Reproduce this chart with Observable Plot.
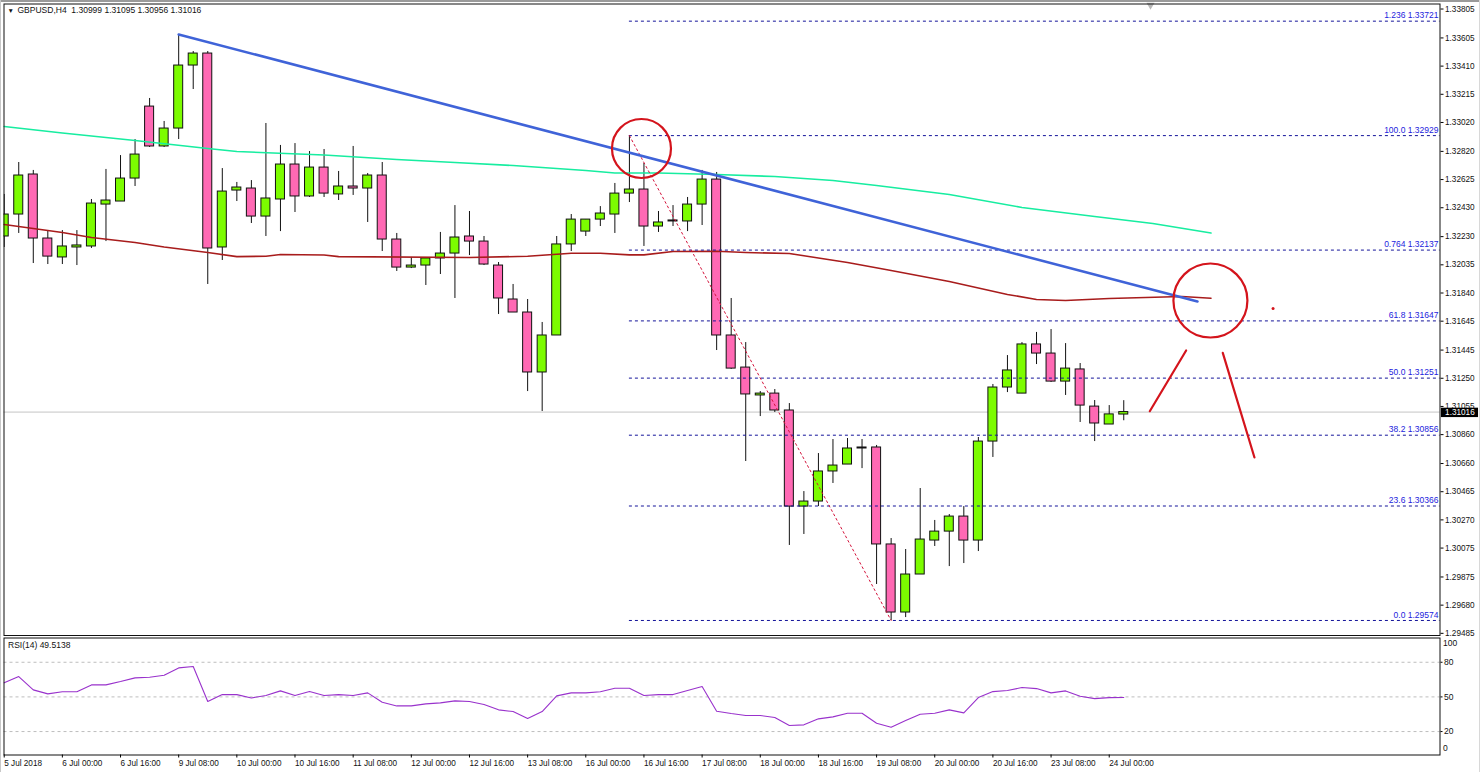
<!DOCTYPE html>
<html>
<head>
<meta charset="utf-8">
<script src="https://cdn.jsdelivr.net/npm/d3@7"></script>
<script src="https://cdn.jsdelivr.net/npm/@observablehq/plot@0.6"></script>
<style>
  html, body { margin: 0; padding: 0; background: #fff; overflow: hidden; }
  #wrap { position: relative; width: 1480px; height: 772px; }
  #wrap svg { display: block; background: transparent; }
  .chrome { position: absolute; background: #9a9a9a; }
</style>
</head>
<body>
<div id="wrap">
  <div class="chrome" style="left:0;top:0;width:1480px;height:2px"></div>
  <div class="chrome" style="left:0;top:0;width:1px;height:772px;background:#c8c8c8"></div>
  <div class="chrome" style="right:0;top:0;width:1px;height:772px;background:#d8d8d8"></div>
</div>
<script>
const opens = [1.32231,1.32383,1.32660,1.32217,1.32086,1.32155,1.32162,1.32452,1.32473,1.32632,1.33130,1.32854,1.32978,1.33414,1.33497,1.32155,1.32549,1.32563,1.32369,1.32487,1.32729,1.32508,1.32708,1.32522,1.32577,1.32563,1.32653,1.32210,1.32016,1.32030,1.32079,1.32113,1.32231,1.32196,1.32030,1.31795,1.31705,1.31290,1.31546,1.32176,1.32265,1.32348,1.32383,1.32528,1.32556,1.32300,1.32342,1.32335,1.32452,1.32625,1.31546,1.31324,1.31131,1.31144,1.31027,1.30362,1.30397,1.30605,1.30653,1.30771,1.30771,1.30100,1.29629,1.29892,1.30127,1.30189,1.30293,1.30127,1.30812,1.31186,1.31144,1.31484,1.31421,1.31227,1.31311,1.31054,1.30930,1.30999];
const highs = [1.32522,1.32743,1.32688,1.32272,1.32272,1.32272,1.32487,1.32695,1.32791,1.32902,1.33186,1.33027,1.33629,1.33511,1.33511,1.32701,1.32605,1.32618,1.33013,1.32861,1.32874,1.32819,1.32833,1.32681,1.32854,1.32667,1.32743,1.32252,1.32086,1.32079,1.32259,1.32445,1.32404,1.32231,1.32051,1.31899,1.31795,1.31636,1.32231,1.32383,1.32348,1.32438,1.32598,1.32930,1.32736,1.32404,1.32445,1.32501,1.32688,1.32674,1.31802,1.31497,1.31158,1.31172,1.31075,1.30466,1.30729,1.30826,1.30833,1.30826,1.30785,1.30141,1.30065,1.30487,1.30266,1.30307,1.30362,1.30840,1.31207,1.31407,1.31497,1.31567,1.31587,1.31490,1.31352,1.31096,1.31061,1.31095];
const lows = [1.32155,1.32252,1.32044,1.32037,1.32037,1.32030,1.32148,1.32196,1.32473,1.32577,1.32847,1.32847,1.32902,1.33248,1.31899,1.32065,1.32473,1.32321,1.32231,1.32265,1.32397,1.32501,1.32501,1.32480,1.32515,1.32328,1.32127,1.31989,1.32009,1.31892,1.31968,1.31802,1.32099,1.32030,1.31691,1.31705,1.31158,1.31020,1.31546,1.32127,1.32231,1.32300,1.32252,1.32466,1.32162,1.32259,1.32300,1.32265,1.32307,1.31442,1.31311,1.30674,1.30985,1.31013,1.30093,1.30169,1.30362,1.30522,1.30653,1.30625,1.29823,1.29574,1.29594,1.29892,1.30086,1.29947,1.29968,1.30051,1.30702,1.31151,1.31144,1.31345,1.31221,1.31131,1.30944,1.30812,1.30930,1.30956];
const closes = [1.32383,1.32653,1.32217,1.32092,1.32162,1.32169,1.32459,1.32480,1.32632,1.32798,1.32854,1.32978,1.33414,1.33497,1.32148,1.32542,1.32570,1.32369,1.32494,1.32729,1.32508,1.32708,1.32528,1.32577,1.32563,1.32653,1.32210,1.32016,1.32030,1.32079,1.32113,1.32224,1.32196,1.32037,1.31802,1.31705,1.31290,1.31546,1.32176,1.32348,1.32348,1.32390,1.32528,1.32556,1.32300,1.32328,1.32335,1.32452,1.32625,1.31546,1.31317,1.31138,1.31144,1.31027,1.30362,1.30397,1.30605,1.30646,1.30764,1.30764,1.30100,1.29629,1.29892,1.30134,1.30189,1.30293,1.30127,1.30812,1.31186,1.31304,1.31484,1.31421,1.31227,1.31317,1.31061,1.30937,1.31000,1.31016];

const greenMaBars = [0,4,9,14,16,22,27,31,35,40,42,45,49,53,57,60,65,70,75,79,83];
const greenMaValues = [1.32992,1.32947,1.32895,1.32840,1.32819,1.32795,1.32764,1.32743,1.32722,1.32688,1.32670,1.32670,1.32660,1.32646,1.32618,1.32584,1.32522,1.32432,1.32369,1.32321,1.32255];
const redMaBars = [0,2,4,6,9,11,14,16,18,19,22,23,32,36,39,41,43,44,46,49,51,54,58,61,65,69,71,73,76,81,83];
const redMaValues = [1.32314,1.32286,1.32259,1.32224,1.32189,1.32158,1.32120,1.32092,1.32094,1.32106,1.32103,1.32092,1.32086,1.32094,1.32115,1.32115,1.32104,1.32104,1.32127,1.32129,1.32120,1.32113,1.32051,1.31996,1.31920,1.31830,1.31795,1.31788,1.31802,1.31816,1.31804];

const fibNames = ["1.236","100.0","0.764","61.8","50.0","38.2","23.6","0.0"];
const fibPrices = [1.33721,1.32929,1.32137,1.31647,1.31251,1.30856,1.30366,1.29574];

const priceTicks = [1.33805,1.33605,1.33410,1.33215,1.33020,1.32820,1.32625,1.32430,1.32230,1.32035,1.31840,1.31645,1.31445,1.31250,1.31055,1.30860,1.30660,1.30465,1.30270,1.30075,1.29875,1.29680,1.29485];

const rsiValues = [62.2,67.6,56.1,52.6,54.4,54.4,60.4,60.4,63.3,66.5,67,68.8,75.1,76.3,46,52,52,49.1,51.2,55.2,51.2,54.6,51.2,52,51.2,53.5,45.4,42.2,42.2,44,44.8,46.6,46,43.4,38.8,37.3,31.3,37.3,50.9,53.5,53.5,54.4,57.5,57.5,51.2,52,52,55.5,59,37.6,35.6,33.9,33.9,32.1,25.2,25.8,31,32.7,35.8,35.8,27.2,23.7,29.5,35,35.8,38.8,36.2,49.4,54.6,55.5,58.1,57.2,53.5,55.2,50.6,48.5,49.4,49.51];
const rsiLevels = [80,50,20];

const timeTickBars = [0,4,8,12,16,20,24,28,32,36,40,44,48,52,56,60,64,68,72,76];
const timeTickLabels = ["5 Jul 2018","6 Jul 00:00","6 Jul 16:00","9 Jul 08:00","10 Jul 00:00","10 Jul 16:00","11 Jul 08:00","12 Jul 00:00","12 Jul 16:00","13 Jul 08:00","16 Jul 00:00","16 Jul 16:00","17 Jul 08:00","18 Jul 00:00","18 Jul 16:00","19 Jul 08:00","20 Jul 00:00","20 Jul 16:00","23 Jul 08:00","24 Jul 00:00"];

const lastPrice = 1.31016;
const titleText = "GBPUSD,H4\u00a0\u00a01.30999 1.31095 1.30956 1.31016";
const rsiText = "RSI(14) 49.5138";

const bars = opens.map((o, i) => ({i, o, h: highs[i], l: lows[i], c: closes[i]}));
const greenMa = greenMaBars.map((i, k) => ({i, v: greenMaValues[k]}));
const redMa = redMaBars.map((i, k) => ({i, v: redMaValues[k]}));
const fibs = fibNames.map((n, k) => ({n, p: fibPrices[k], label: n + " " + fibPrices[k].toFixed(5)}));
const rsi = rsiValues.map((v, i) => ({i, v}));

const trendLine = [{i: 12, p: 1.33629}, {i: 82.07, p: 1.31781}];
const fibDiagonal = [{i: 43, p: 1.32929}, {i: 61, p: 1.29574}];
const arrowUp = [{i: 78.79, p: 1.31022}, {i: 81.29, p: 1.31442}];
const arrowDown = [{i: 83.81, p: 1.31426}, {i: 85.99, p: 1.30702}];
const circleA = [{i: 43.83, p: 1.32840}];
const circleB = [{i: 82.96, p: 1.31788}];
const strayDot = [{i: 87.27, p: 1.31733}];

const xDomain = [-0.014, 98.75];
const font = "'Liberation Sans', sans-serif";
const bull = "#7cfc00", bear = "#ff69b4", annot = "#d4141c";
const bodyHalf = 0.31;

const main = Plot.plot({
  width: 1480, height: 637,
  marginTop: 3.5, marginBottom: 2, marginLeft: 3.5, marginRight: 40.5,
  x: {domain: xDomain, axis: null},
  y: {domain: [1.29470, 1.338398], axis: null},
  color: {type: "identity"},
  style: {fontFamily: font, fontSize: "8.5px", background: "transparent", overflow: "visible"},
  marks: [
    Plot.ruleY([lastPrice], {stroke: "#c4c4c4", strokeWidth: 1}),
    Plot.ruleX(bars, {x: "i", y1: "l", y2: "h", stroke: "#111", strokeWidth: 1, clip: true}),
    Plot.rect(bars, {
      x1: d => d.i - bodyHalf, x2: d => d.i + bodyHalf,
      y1: d => Math.min(d.o, d.c), y2: d => Math.max(d.o, d.c),
      fill: d => d.c >= d.o ? bull : bear, stroke: "#111", strokeWidth: 1, clip: true
    }),
    Plot.lineY(greenMa, {x: "i", y: "v", stroke: "#17eda0", strokeWidth: 1.6}),
    Plot.lineY(redMa, {x: "i", y: "v", stroke: "#a81c1c", strokeWidth: 1.6}),
    Plot.ruleY(fibs, {y: "p", x1: 43, x2: xDomain[1], stroke: "#14149a", strokeWidth: 1, strokeDasharray: "3,3"}),
    Plot.text(fibs, {y: "p", text: "label", frameAnchor: "right", textAnchor: "end", dx: -1.5, dy: -5.5, fill: "#2222dd"}),
    Plot.lineY(fibDiagonal, {x: "i", y: "p", stroke: "#d4143c", strokeWidth: 1, strokeDasharray: "2,3"}),
    Plot.lineY(trendLine, {x: "i", y: "p", stroke: "#3f63d8", strokeWidth: 2.6}),
    Plot.dot(circleA, {x: "i", y: "p", r: 29.5, stroke: annot, strokeWidth: 2.2, fill: "none"}),
    Plot.dot(circleB, {x: "i", y: "p", r: 37, stroke: annot, strokeWidth: 2.2, fill: "none"}),
    Plot.lineY(arrowUp, {x: "i", y: "p", stroke: annot, strokeWidth: 2.2}),
    Plot.lineY(arrowDown, {x: "i", y: "p", stroke: annot, strokeWidth: 2.2}),
    Plot.dot(strayDot, {x: "i", y: "p", r: 1.5, fill: annot}),
    Plot.dot([78.84], {x: d => d, frameAnchor: "top", symbol: "triangle", rotate: 180, r: 3, dy: 1, fill: "#b8b8b8"}),
    Plot.text(["\u25BC"], {frameAnchor: "top-left", dx: 3.5, dy: 4, fontSize: 6.5, fill: "#111"}),
    Plot.text([titleText], {frameAnchor: "top-left", dx: 13.5, dy: 3, fontSize: 8.5, fill: "#111"}),
    Plot.frame({stroke: "#111", strokeWidth: 1}),
    Plot.axisY({anchor: "right", ticks: priceTicks, tickFormat: d => d.toFixed(5), tickSize: 3, tickPadding: 2, label: null, fill: "#111", fontSize: 8.2}),
    Plot.rect([lastPrice], {x1: 98.85, x2: 101.4, y1: 1.30978, y2: 1.31043, fill: "#000", clip: false}),
    Plot.text([lastPrice], {x: 99.1, y: d => d, text: d => d.toFixed(5), textAnchor: "start", fill: "#fff", fontSize: 8.2, clip: false})
  ]
});

const sub = Plot.plot({
  width: 1480, height: 135,
  marginTop: 0.5, marginBottom: 17.5, marginLeft: 3.5, marginRight: 40.5,
  x: {domain: xDomain, axis: null},
  y: {domain: [-0.3, 101], axis: null},
  style: {fontFamily: font, fontSize: "8.5px", background: "transparent", overflow: "visible"},
  marks: [
    Plot.ruleY(rsiLevels, {stroke: "#bdbdbd", strokeWidth: 1, strokeDasharray: "3,3"}),
    Plot.lineY(rsi, {x: "i", y: "v", stroke: "#9932cc", strokeWidth: 1.1}),
    Plot.frame({stroke: "#111", strokeWidth: 1}),
    Plot.text([rsiText], {frameAnchor: "top-left", dx: 4, dy: 4, fill: "#111"}),
    Plot.axisY({anchor: "right", ticks: rsiLevels, tickSize: 2, tickPadding: 2, label: null, fill: "#111"}),
    Plot.text([100], {x: xDomain[1], y: d => d, text: d => String(d), textAnchor: "start", dx: 3, dy: 4.5, fill: "#111"}),
    Plot.text([0], {x: xDomain[1], y: d => d, text: d => String(d), textAnchor: "start", dx: 3, dy: -6, fill: "#111"}),
    Plot.axisX({
      ticks: timeTickBars,
      tickFormat: d => timeTickLabels[timeTickBars.indexOf(d)],
      tickSize: 3, tickPadding: 2, textAnchor: "start", label: null, fill: "#111", fontSize: 8.2
    })
  ]
});

const wrap = document.getElementById("wrap");
wrap.appendChild(main);
wrap.appendChild(sub);
</script>
</body>
</html>
